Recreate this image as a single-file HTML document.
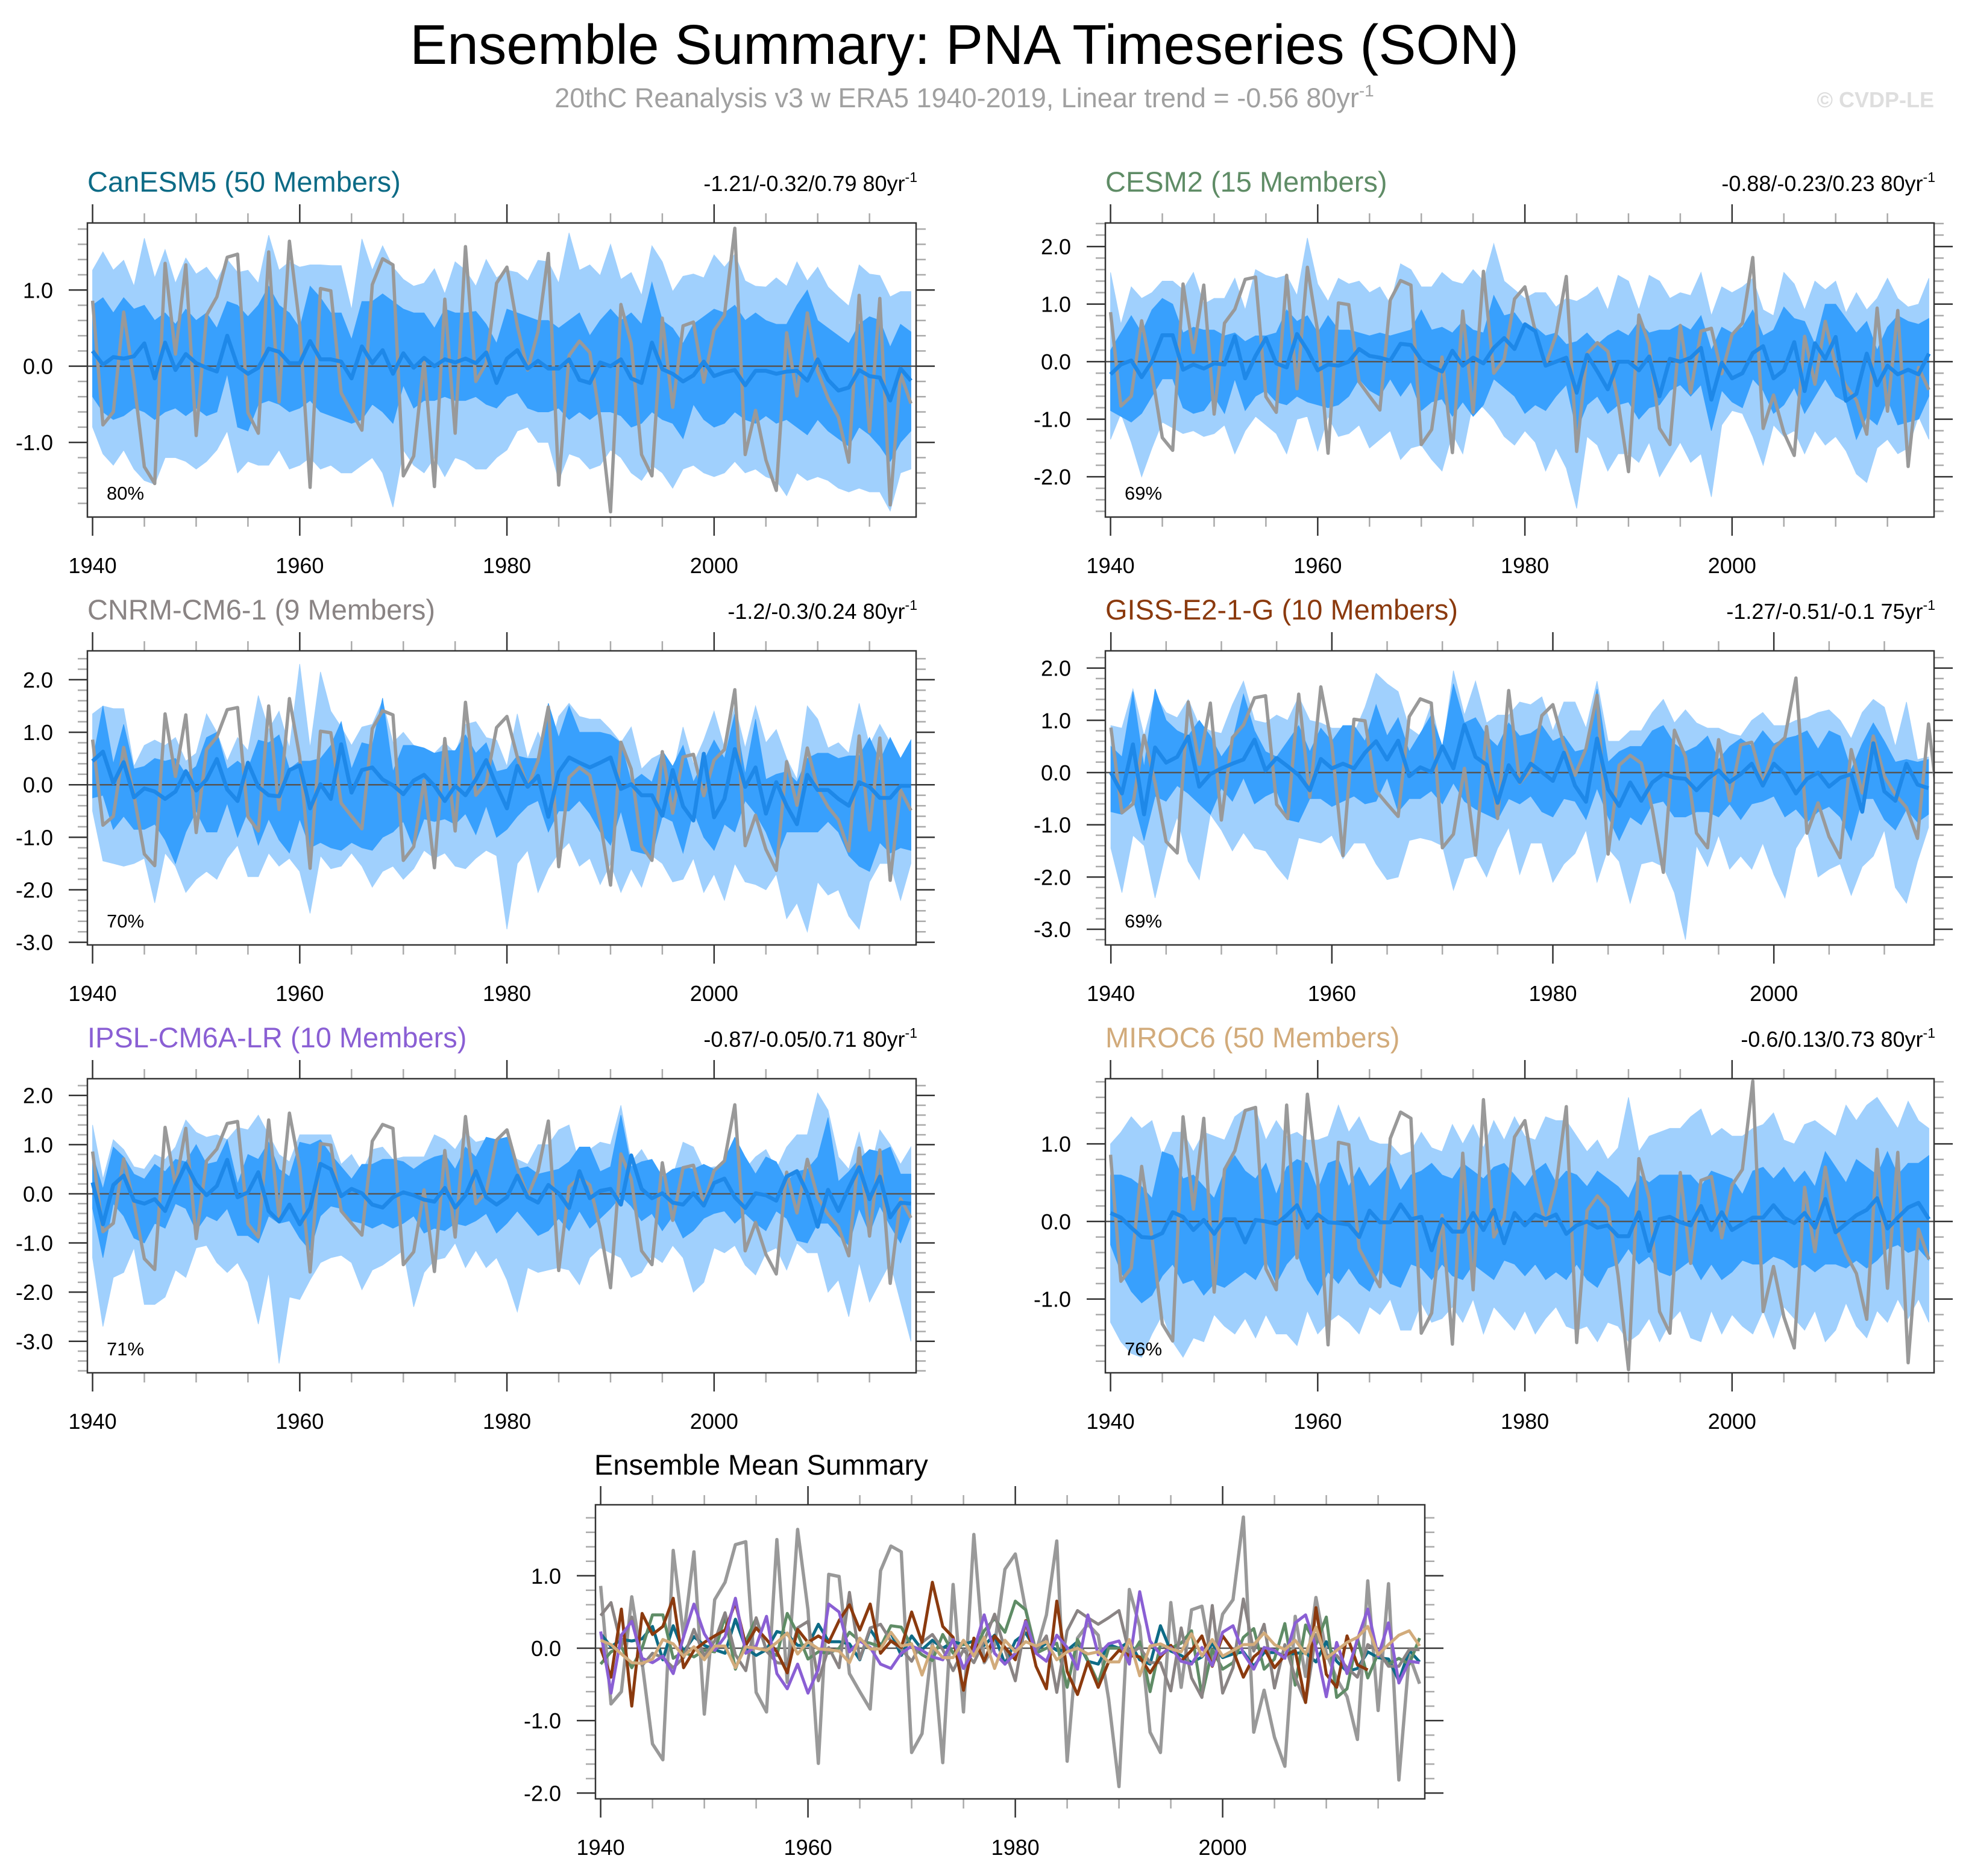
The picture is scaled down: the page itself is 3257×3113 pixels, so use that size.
<!DOCTYPE html>
<html><head><meta charset="utf-8"><style>
html,body{margin:0;padding:0;background:#fff;}
svg{display:block;font-family:"Liberation Sans",Arial,sans-serif;}
</style></head>
<body>
<svg id="chart" xmlns="http://www.w3.org/2000/svg" width="3257" height="3113" viewBox="0 0 3257 3113">
<rect x="0" y="0" width="3257" height="3113" fill="#fff"/>
<text x="1600" y="106" font-size="93" text-anchor="middle" fill="#000">Ensemble Summary: PNA Timeseries (SON)</text>
<text x="1600" y="178" font-size="45" text-anchor="middle" fill="#a0a0a0">20thC Reanalysis v3 w ERA5 1940-2019, Linear trend = -0.56 80yr<tspan dy="-18" font-size="28">-1</tspan></text>
<text x="3209" y="178" font-size="36" font-weight="bold" text-anchor="end" fill="#dedede">© CVDP-LE</text>
<g id="panels"></g>
</svg>
<script>
// ---- data ----
const years80 = [1940,1941,1942,1943,1944,1945,1946,1947,1948,1949,1950,1951,1952,1953,1954,1955,1956,1957,1958,1959,1960,1961,1962,1963,1964,1965,1966,1967,1968,1969,1970,1971,1972,1973,1974,1975,1976,1977,1978,1979,1980,1981,1982,1983,1984,1985,1986,1987,1988,1989,1990,1991,1992,1993,1994,1995,1996,1997,1998,1999,2000,2001,2002,2003,2004,2005,2006,2007,2008,2009,2010,2011,2012,2013,2014,2015,2016,2017,2018,2019];
const obsValues = [0.86,-0.77,-0.6,0.71,-0.2,-1.32,-1.54,1.35,0.16,1.33,
-0.91,0.67,0.91,1.43,1.47,-0.61,-0.88,1.5,-0.47,1.64,
0.53,-1.59,1.02,0.99,-0.35,-0.6,-0.84,1.07,1.41,1.33,
-1.44,-1.18,0.08,-1.58,0.88,-0.88,1.57,-0.2,0.04,1.09,
1.3,0.53,-0.05,0.46,1.48,-1.56,0.14,0.33,0.18,-0.7,
-1.91,0.81,0.3,-1.16,-1.44,0.63,-0.54,0.53,0.58,-0.21,
0.47,0.67,1.81,-1.16,-0.58,-1.23,-1.63,0.44,-0.39,0.7,
-0.07,-0.42,-0.67,-1.26,0.93,-0.86,0.89,-1.82,-0.1,-0.49];

const canMean = [0.2,0.02,0.12,0.1,0.13,0.3,-0.16,0.31,-0.05,0.16,0.04,-0.02,-0.07,0.4,0,-0.1,-0.02,0.23,0.19,0.04,0.04,0.33,0.09,0.09,0.06,-0.16,0.26,0.04,0.21,-0.1,0.17,-0.02,0.11,0,0.09,0.05,0.1,0.04,0.18,-0.22,0.1,0.21,-0.03,0.07,-0.03,-0.03,0.09,-0.18,-0.22,0.05,0,0.09,-0.16,-0.22,0.31,-0.04,-0.1,-0.2,-0.12,0.06,-0.13,-0.08,-0.05,-0.25,-0.06,-0.06,-0.1,-0.07,-0.06,-0.19,0.09,-0.18,-0.32,-0.28,-0.05,-0.13,-0.15,-0.45,-0.03,-0.19];
const canOuterHi = [1.26,1.5,1.26,1.39,1.05,1.68,1.16,1.53,1.09,1.42,1.21,1.3,1.12,1.4,1.23,1.26,1.09,1.72,1.26,1.37,1.3,1.33,1.33,1.32,1.32,0.74,1.67,1.26,1.58,1.3,1.14,1.05,1.09,1.28,0.95,1.37,1.26,1.05,1.4,1.16,1.26,1.23,1.12,1.39,1.37,1.09,1.75,1.26,1.33,1.19,1.6,1.14,1.23,0.93,1.58,1.37,0.98,1.18,1.21,1.16,1.46,1.3,1.47,1.12,1.05,1.04,1.16,1.05,1.37,1.12,1.3,1.04,0.91,0.79,1.33,1.21,1.19,0.91,0.98,0.98];
const canInnerHi = [0.8,0.9,0.7,0.9,0.75,0.8,0.6,0.7,0.55,0.75,0.6,0.7,0.5,0.85,0.8,0.65,0.8,1.05,0.8,0.7,0.5,1.05,0.9,0.7,0.7,0.35,0.85,0.85,0.95,0.85,0.75,0.7,0.7,0.5,0.75,0.7,0.7,0.72,0.55,0.3,0.75,0.7,0.65,0.6,0.6,0.5,0.6,0.7,0.4,0.6,0.75,0.6,0.7,0.55,1.1,0.6,0.5,0.3,0.55,0.65,0.75,0.7,0.8,0.6,0.7,0.6,0.55,0.55,0.8,1.0,0.6,0.5,0.4,0.3,0.55,0.65,0.6,0.25,0.55,0.45];
const canInnerLo = [-0.4,-0.6,-0.7,-0.65,-0.55,-0.6,-0.7,-0.6,-0.55,-0.65,-0.55,-0.65,-0.6,-0.1,-0.8,-0.85,-0.5,-0.45,-0.5,-0.6,-0.55,-0.45,-0.6,-0.65,-0.7,-0.75,-0.7,-0.5,-0.6,-0.75,-0.25,-0.55,-0.45,-0.45,-0.4,-0.45,-0.45,-0.4,-0.5,-0.55,-0.4,-0.35,-0.55,-0.6,-0.6,-0.55,-0.7,-0.6,-0.7,-0.6,-0.6,-0.65,-0.8,-0.75,-0.6,-0.7,-0.75,-0.95,-0.5,-0.7,-0.8,-0.75,-0.6,-0.7,-0.75,-0.65,-0.75,-0.7,-0.8,-0.9,-0.7,-0.85,-0.95,-1.05,-0.8,-0.9,-1.05,-1.25,-1.0,-0.85];
const canOuterLo = [-0.8,-1.15,-1.3,-1.1,-1.35,-1.5,-1.55,-1.2,-1.2,-1.25,-1.35,-1.25,-1.1,-0.85,-1.4,-1.25,-1.3,-1.3,-1.1,-1.35,-1.3,-1.2,-1.35,-1.3,-1.4,-1.4,-1.3,-1.2,-1.4,-1.85,-1.1,-1.3,-1.4,-1.2,-1.45,-1.2,-1.25,-1.35,-1.35,-1.2,-1.1,-0.85,-0.8,-1.0,-1.0,-1.5,-1.15,-1.2,-1.35,-1.3,-1.1,-1.2,-1.4,-1.5,-1.3,-1.4,-1.6,-1.35,-1.3,-1.4,-1.45,-1.4,-1.25,-1.4,-1.35,-1.45,-1.5,-1.7,-1.4,-1.5,-1.45,-1.5,-1.6,-1.65,-1.6,-1.65,-1.65,-1.9,-1.4,-1.35];

const cesmMean = [-0.22,-0.05,0.02,-0.27,0,0.46,0.46,-0.14,-0.05,-0.12,-0.03,-0.05,0.44,-0.29,0.1,0.41,-0.03,-0.1,0.48,0.2,-0.15,-0.05,-0.07,0,0.22,0.1,0.07,0.02,0.31,0.29,0.03,-0.09,-0.17,0.19,-0.07,0.07,-0.03,0.24,0.41,0.22,0.65,0.53,-0.07,0,0.07,-0.54,0.12,-0.17,-0.48,0,0,-0.15,0.09,-0.6,0.05,0,0.07,0.24,-0.66,-0.02,-0.29,-0.2,0.15,0.27,-0.29,-0.15,0.34,-0.51,0.32,0.05,0.43,-0.68,-0.56,0.14,-0.41,-0.07,-0.22,-0.14,-0.22,0.14];
const cesmOuterHi = [1.55,0.65,1.3,1.1,1.2,1.4,1.4,1.25,1.55,1.0,1.1,1.1,1.45,0.9,1.6,1.5,1.45,1.5,1.15,2.15,1.35,1.05,1.45,1.35,1.4,1.2,1.3,1.0,1.7,1.6,1.3,1.3,1.55,1.4,1.35,1.6,1.4,2.05,1.4,1.25,1.1,1.2,1.2,0.95,1.1,1.05,1.15,1.3,0.9,1.5,1.4,0.9,1.5,1.4,1.1,1.2,1.15,1.55,0.8,1.3,1.2,1.3,1.45,0.9,0.8,1.55,1.35,0.9,1.4,1.25,1.4,0.85,1.2,0.9,1.1,1.45,1.1,0.95,1.0,1.45];
const cesmInnerHi = [0.2,0.5,0.8,0.5,0.9,1.1,1.0,0.5,0.6,0.55,0.55,0.45,0.5,0.35,0.45,0.45,0.5,0.9,0.7,0.8,0.5,0.8,0.55,0.55,0.5,0.45,0.5,0.45,0.5,0.55,0.9,0.55,0.6,0.5,0.7,0.55,0.5,1.15,0.8,0.85,0.6,0.6,0.45,0.5,0.3,0.35,0.5,0.3,0.45,0.55,0.45,0.7,0.5,0.55,0.55,0.65,0.55,0.8,0.2,0.6,0.5,0.6,0.9,0.45,0.55,0.95,0.75,0.7,0.3,1.0,1.0,0.75,0.5,0.7,0.2,0.6,0.8,0.7,0.65,0.75];
const cesmInnerLo = [-0.85,-0.95,-1.05,-0.9,-0.6,-0.3,-0.3,-0.8,-0.9,-0.85,-0.6,-0.9,-0.3,-0.85,-0.6,-0.5,-0.7,-0.75,-0.6,-0.7,-0.75,-0.8,-0.75,-0.6,-0.3,-0.5,-0.6,-0.3,-0.6,-0.35,-0.85,-0.7,-0.65,-0.95,-0.7,-0.95,-0.75,-0.3,-0.45,-0.6,-0.9,-0.75,-0.85,-0.6,-0.4,-1.2,-0.75,-0.6,-0.9,-0.75,-0.7,-1.0,-0.8,-0.75,-0.5,-0.4,-0.6,-0.4,-1.2,-0.5,-0.7,-0.8,-0.3,-0.5,-0.9,-0.75,-0.45,-0.9,-0.6,-0.3,-0.6,-0.7,-1.35,-0.95,-1.1,-0.65,-1.1,-1.05,-1.0,-0.6];
const cesmOuterLo = [-1.35,-0.9,-1.4,-2.0,-1.5,-1.05,-1.15,-1.25,-1.2,-1.3,-1.25,-1.1,-1.6,-1.2,-0.95,-1.1,-1.25,-1.6,-1.0,-0.95,-1.55,-0.95,-1.3,-1.25,-1.1,-1.5,-1.35,-1.2,-1.7,-1.5,-1.45,-1.7,-1.9,-1.25,-1.6,-0.7,-0.8,-1.0,-1.3,-1.45,-1.2,-1.4,-1.9,-1.5,-1.85,-2.55,-1.3,-1.45,-1.9,-1.6,-1.6,-1.75,-1.4,-2.0,-1.7,-1.4,-1.75,-1.6,-2.35,-1.1,-0.85,-0.9,-1.3,-1.8,-1.1,-1.3,-1.2,-1.6,-1.2,-1.45,-1.3,-1.55,-1.95,-2.1,-1.5,-1.35,-1.6,-1.5,-0.95,-1.35];

const cnrmMean = [0.45,0.63,0.03,0.43,-0.24,-0.07,-0.13,-0.27,-0.13,0.26,-0.11,0.1,0.49,-0.09,-0.31,0.42,-0.04,-0.2,-0.22,0.28,0.37,-0.45,0.01,-0.27,0.77,-0.15,0.28,0.33,0.1,-0.01,-0.18,0.08,0.19,-0.02,-0.31,-0.02,-0.2,0.1,0.47,-0.02,-0.45,0.36,-0.04,0.17,-0.61,0.24,0.52,0.42,0.33,0.42,0.52,-0.08,0.01,-0.2,-0.2,-0.59,0.28,-0.41,-0.68,0.59,-0.62,-0.27,0.68,-0.04,0.33,-0.55,0.05,-0.4,-0.75,0.19,-0.1,-0.1,-0.27,-0.4,0.05,-0.04,-0.25,-0.25,-0.02,-0.02];
const cnrmOuterHi = [1.35,1.5,1.45,1.45,0.35,0.75,0.85,0.75,0.9,0.45,0.6,1.35,1.0,0.45,0.9,0.65,1.7,1.05,1.4,0.7,2.3,0.7,2.15,1.4,1.1,0.75,1.1,1.15,1.6,0.8,1.0,0.75,0.65,0.6,0.8,0.6,1.15,1.2,0.9,0.85,0.35,1.35,0.5,1.0,0.55,1.3,1.55,1.3,1.25,1.25,1.05,0.8,1.1,0.3,0.5,0.6,0.2,1.1,0.4,0.85,1.4,0.7,1.5,0.7,1.5,0.8,1.05,0.5,0.1,1.5,1.25,0.7,0.8,0.6,1.55,0.75,1.15,0.8,0.5,0.85];
const cnrmInnerHi = [0.45,1.5,0.4,1.15,0.3,0.35,0.5,0.45,0.5,0.2,0.35,0.9,1.0,0.3,0.45,0.3,0.85,0.8,0.95,0.3,0.45,0.45,0.5,0.75,1.2,0.3,0.8,0.75,1.65,0.25,0.75,0.75,0.7,0.6,0.65,0.65,0.95,0.6,0.8,0.25,0.3,0.55,0.5,0.5,1.55,0.9,1.5,1.0,1.0,1.0,0.95,0.8,0.05,0.2,0.05,0.65,0.35,0.75,0.05,0.45,0.85,0.5,1.35,0.2,1.25,0.1,0.2,0.25,0.05,0.5,0.6,0.6,0.5,0.55,0.55,0.9,0.45,0.9,0.5,0.85];
const cnrmInnerLo = [-0.25,-0.2,-0.85,-0.6,-0.85,-0.85,-0.75,-1.05,-1.5,-0.9,-0.5,-0.9,-0.9,-0.35,-1.0,-0.5,-1.15,-0.65,-1.05,-1.3,-0.65,-1.2,-1.1,-1.2,-1.25,-1.1,-1.2,-1.25,-1.0,-0.9,-0.7,-1.2,-0.65,-0.7,-0.65,-0.75,-0.55,-0.95,-0.4,-1.0,-0.85,-0.6,-0.4,-0.3,-0.9,-0.5,-0.5,-0.3,-0.55,-0.9,-1.15,-0.5,-1.25,-1.3,-1.35,-0.6,-0.7,-1.3,-0.5,-1.0,-1.25,-0.75,-0.9,-0.3,-0.55,-0.9,-1.4,-0.9,-0.9,-0.9,-0.9,-0.7,-0.9,-1.35,-1.55,-1.65,-1.1,-1.3,-1.2,-1.25];
const cnrmOuterLo = [-0.5,-1.45,-1.5,-1.55,-1.5,-1.4,-2.25,-1.3,-1.55,-2.05,-1.8,-1.65,-1.8,-1.4,-1.15,-1.75,-1.75,-1.3,-1.55,-1.4,-1.65,-2.45,-1.35,-1.6,-1.55,-1.3,-1.55,-1.95,-1.65,-1.55,-1.8,-1.6,-1.25,-1.4,-1.3,-1.55,-1.6,-1.4,-1.25,-1.35,-2.75,-1.5,-1.25,-2.05,-1.6,-1.3,-1.1,-1.55,-1.4,-1.9,-1.5,-2.05,-1.6,-1.95,-1.35,-1.5,-1.85,-1.8,-1.4,-2.05,-1.7,-2.2,-1.5,-1.85,-1.9,-2.0,-1.7,-2.55,-2.25,-2.8,-1.85,-2.1,-2.0,-2.5,-2.75,-1.85,-1.5,-1.5,-2.2,-1.5];

const gissMean = [0,-0.4,0.54,-0.8,0.48,0.19,0.3,0.69,-0.27,-0.03,0.08,0.17,0.25,0.63,0.04,0.28,0.12,-0.05,-0.34,0.26,0.08,0.17,0.08,0.38,0.6,0.25,0.61,-0.07,0.1,0.01,0.5,0.08,0.91,0.3,0.15,-0.58,0.14,-0.18,0.17,0.01,-0.16,0.38,-0.25,-0.56,0.65,-0.32,-0.64,-0.19,-0.54,-0.19,-0.03,-0.1,-0.12,-0.34,-0.12,0.04,-0.18,-0.03,0.17,-0.25,0.17,-0.03,-0.4,-0.12,0,-0.27,-0.1,-0.03,-0.75,0.56,-0.36,-0.54,0.17,-0.23,-0.3];
const gissOuterHi = [0.9,0.85,1.6,0.7,1.5,1.15,1.05,1.4,0.9,0.8,0.75,1.3,1.75,1.0,0.95,1.1,1.0,1.45,1.0,0.95,0.85,0.85,0.75,1.25,1.9,1.7,1.55,0.85,0.7,1.3,0.4,1.95,1.1,1.75,0.95,1.1,1.1,1.35,1.3,1.45,0.8,1.35,1.35,0.85,1.75,0.6,0.6,0.8,0.8,1.15,1.4,0.95,1.2,0.95,0.85,0.85,0.75,0.7,1.0,1.15,0.9,0.9,1.0,1.05,1.15,1.2,1.0,0.65,1.15,1.4,1.25,0.5,1.35,0.25,0.3];
const gissInnerHi = [0.5,0.3,1.55,0.1,1.6,1.0,0.8,0.7,1.0,0.7,0.3,0.6,1.5,0.8,0.4,0.3,0.6,0.9,0.4,0.85,0.6,0.9,0.9,0.6,1.3,0.7,1.05,0.4,0.75,1.1,0.5,1.7,0.95,1.05,0.7,0.5,0.95,0.7,0.75,0.9,0.6,0.7,0.4,0.45,1.6,0.2,0.4,0.5,0.5,0.8,0.9,0.55,0.4,0.5,0.7,0.25,0.5,0.65,0.5,0.8,0.55,0.65,0.7,0.8,0.45,0.8,0.7,0.05,0.55,0.95,0.6,0.2,0.25,0.2,0.25];
const gissInnerLo = [-0.75,-0.8,-0.5,-1.3,-0.45,-0.55,-0.25,-0.4,-0.6,-0.8,-0.3,-0.55,-0.1,-0.6,-0.45,-0.35,-0.9,-0.95,-0.5,-0.5,-0.65,-0.55,-0.45,-0.6,-0.55,-0.1,-0.75,-0.5,-0.5,-0.35,-0.6,-0.2,-0.55,-0.7,-0.8,-0.9,-0.5,-0.6,-0.45,-0.75,-0.85,-0.5,-0.55,-0.9,-0.3,-0.85,-1.3,-0.85,-1.0,-0.6,-0.55,-0.85,-0.85,-0.75,-0.75,-0.85,-0.6,-0.9,-0.6,-0.55,-0.45,-0.85,-0.7,-0.95,-0.75,-0.65,-0.85,-1.3,-0.5,-0.5,-0.9,-1.1,-0.7,-0.95,-0.8];
const gissOuterLo = [-1.45,-2.3,-1.2,-1.4,-2.4,-1.5,-0.85,-1.7,-2.05,-0.8,-1.1,-1.5,-1.15,-1.45,-1.5,-1.8,-2.05,-1.25,-1.3,-1.35,-1.2,-1.65,-1.35,-1.35,-1.75,-2.05,-2.0,-1.3,-1.25,-1.3,-1.4,-2.25,-1.65,-1.6,-2.0,-1.45,-1.05,-1.95,-1.35,-1.35,-2.1,-1.75,-1.55,-1.1,-2.1,-1.45,-1.7,-2.5,-1.75,-1.7,-1.8,-2.3,-3.2,-1.4,-1.8,-1.2,-1.85,-1.6,-1.85,-1.35,-1.95,-2.4,-1.45,-1.1,-2.0,-1.85,-1.75,-2.35,-1.8,-1.6,-1.1,-2.2,-2.5,-1.7,-1.05];

const ipslMean = [0.23,-0.62,0.18,0.37,-0.14,-0.2,-0.11,-0.35,0.16,0.61,0.2,-0.03,0.16,0.69,-0.07,0.03,0.44,-0.35,-0.56,-0.22,-0.62,-0.29,0.61,0.5,-0.05,0.1,0.01,-0.22,-0.28,-0.07,0.03,-0.03,-0.12,-0.16,0.12,-0.28,-0.03,0.46,-0.07,-0.22,-0.07,0.37,-0.07,-0.18,0.18,0.01,-0.29,0.46,-0.09,0.06,0.1,-0.22,0.78,0.1,-0.09,0.01,-0.18,-0.22,0.01,-0.24,0.22,0.31,-0.07,-0.29,0.01,-0.03,-0.14,0.35,0.46,0.01,-0.67,0.08,-0.35,0.12,0.54,-0.11,0.35,-0.48,-0.18,-0.2];
const ipslOuterHi = [1.4,0.3,1.1,0.9,0.55,0.5,0.8,0.7,0.95,1.5,1.25,1.15,1.2,1.1,1.35,1.3,1.6,1.2,0.8,0.65,1.2,1.2,1.2,1.2,0.6,0.8,0.45,0.9,0.95,0.7,0.75,0.75,0.75,1.2,1.1,0.9,1.25,1.05,1.1,0.9,0.85,0.7,0.6,1.0,1.0,1.3,1.4,0.6,0.9,1.05,1.0,1.8,0.65,0.9,0.55,0.4,0.35,1.05,0.95,0.5,0.55,0.55,0.6,0.5,0.75,0.9,0.5,0.95,1.2,1.2,2.05,1.7,0.75,0.5,1.25,0.4,1.3,1.0,0.6,0.95];
const ipslInnerHi = [0.8,0.1,0.95,0.75,0.4,0.3,0.6,0.45,0.7,0.65,1.0,0.6,0.65,1.1,0.2,0.8,0.7,1.05,0.5,0.35,1.05,1.0,1.1,0.8,0.55,0.3,0.6,0.6,0.7,0.7,0.65,0.5,0.65,0.75,0.8,0.5,0.95,0.75,1.15,1.1,1.15,0.5,0.55,0.4,0.45,0.5,0.65,0.95,0.95,0.45,0.55,1.6,0.55,0.65,0.7,0.35,0.5,0.55,0.5,0.6,0.5,0.7,1.15,0.75,0.4,0.75,0.65,0.25,0.45,0.5,0.75,1.55,0.25,0.45,0.7,0.9,0.85,0.95,0.4,0.4];
const ipslInnerLo = [-0.3,-1.3,-0.2,-0.45,-0.9,-1.0,-0.6,-0.7,-0.2,-0.3,-0.75,-0.45,-0.55,-0.3,-0.85,-0.85,-1.0,-0.45,-0.6,-0.55,-0.9,-1.15,-0.45,-0.25,-0.3,-0.55,-0.6,-0.7,-0.6,-0.7,-0.6,-0.45,-0.8,-0.7,-0.75,-0.6,-0.65,-0.55,-0.4,-0.8,-0.6,-0.35,-0.6,-0.85,-0.75,-0.5,-0.75,-0.35,-0.7,-0.5,-0.3,-0.05,-0.25,-0.55,-0.4,-0.75,-0.45,-0.9,-0.75,-0.5,-0.4,-0.35,-0.6,-0.4,-0.6,-0.75,-0.35,-0.5,-0.95,-1.0,-0.6,-0.6,-0.85,-1.05,-0.3,-0.8,-0.25,-0.65,-1.0,-0.45];
const ipslOuterLo = [-1.3,-2.7,-1.7,-1.6,-1.1,-2.25,-2.25,-2.1,-1.55,-1.7,-1.1,-1.05,-1.4,-1.6,-1.4,-1.8,-2.65,-1.6,-3.45,-2.1,-2.15,-1.75,-1.4,-1.3,-1.25,-1.4,-1.95,-1.55,-1.45,-1.3,-1.15,-2.3,-1.6,-1.35,-1.3,-1.0,-1.5,-1.15,-1.5,-1.3,-1.75,-2.4,-1.5,-1.6,-1.55,-1.5,-1.55,-1.85,-1.3,-1.1,-1.2,-1.3,-1.7,-1.6,-1.25,-1.4,-1.05,-1.3,-2.0,-1.8,-1.1,-1.2,-1.05,-1.45,-1.65,-1.2,-1.1,-1.55,-1.0,-1.2,-1.2,-2.0,-1.75,-2.5,-1.4,-2.2,-1.8,-1.4,-2.2,-3.0];

const mirocMean = [0.11,0.05,-0.08,-0.2,-0.21,-0.15,0.12,0.06,-0.11,0.02,-0.16,0.03,0.03,-0.27,0.02,0,-0.03,0.08,0.21,-0.08,0.09,-0.01,-0.02,-0.04,-0.2,0.14,-0.01,-0.01,0.22,0.03,0.06,-0.37,0.03,-0.13,-0.13,0.11,-0.11,0.15,-0.28,0.11,-0.05,0.09,0.03,0.09,-0.16,-0.05,0,-0.08,-0.05,-0.19,-0.19,0.12,-0.38,0.03,0.06,-0.01,-0.05,0.2,-0.11,0.12,-0.11,-0.03,0.05,0.05,0.21,0.05,-0.02,0.11,-0.08,0.29,-0.14,-0.03,0.08,0.15,0.3,-0.09,0.05,0.18,0.24,0.03];
const mirocOuterHi = [1.0,1.15,1.35,1.2,1.3,0.85,1.15,1.15,0.9,1.15,1.1,1.05,1.35,1.45,1.45,1.05,1.3,1.1,1.15,1.05,1.05,1.1,1.5,1.15,1.35,1.05,1.0,1.0,0.85,0.9,1.15,0.95,0.9,1.25,1.0,1.25,0.95,1.3,1.05,1.35,1.1,1.05,1.35,1.3,1.3,1.1,0.9,1.05,0.8,0.95,1.6,0.9,1.1,1.15,1.2,1.2,1.35,1.45,1.1,1.2,1.1,1.1,1.2,1.25,1.4,1.05,1.0,1.25,1.3,1.2,1.1,1.5,1.3,1.5,1.6,1.4,1.2,1.55,1.3,1.2];
const mirocInnerHi = [0.6,0.6,0.55,0.45,0.3,0.9,0.85,0.55,0.6,0.45,0.3,0.65,0.85,0.65,0.55,0.75,0.35,0.7,0.8,0.75,0.4,0.75,0.8,0.45,0.7,0.45,0.6,0.75,0.4,0.6,0.65,0.75,0.6,0.55,0.75,0.65,0.55,0.7,0.75,0.6,0.45,0.65,0.75,0.5,0.65,0.6,0.45,0.65,0.55,0.45,0.3,0.6,0.5,0.6,0.6,0.6,0.6,0.45,0.65,0.6,0.55,0.35,0.65,0.7,0.55,0.7,0.5,0.65,0.45,0.9,0.7,0.5,0.8,0.7,0.6,0.9,0.6,0.75,0.75,0.85];
const mirocInnerLo = [-0.3,-0.65,-0.9,-1.05,-0.95,-0.7,-0.55,-0.8,-0.75,-0.95,-0.8,-0.85,-0.75,-0.65,-0.75,-0.5,-0.8,-0.55,-0.4,-0.75,-0.95,-0.65,-0.8,-0.6,-0.8,-0.9,-0.6,-0.8,-0.85,-0.55,-0.6,-0.75,-0.55,-0.7,-0.75,-0.55,-0.65,-0.75,-0.5,-0.55,-0.7,-0.55,-0.75,-0.65,-0.75,-0.55,-0.75,-0.85,-0.6,-0.55,-0.35,-0.55,-0.45,-0.65,-0.7,-0.6,-0.5,-0.75,-0.55,-0.75,-0.65,-0.5,-0.55,-0.55,-0.45,-0.5,-0.6,-0.55,-0.65,-0.55,-0.55,-0.6,-0.5,-0.6,-0.5,-0.35,-0.3,-0.4,-0.35,-0.5];
const mirocOuterLo = [-1.3,-1.55,-1.7,-1.75,-1.45,-1.2,-1.55,-1.75,-1.5,-1.55,-1.2,-1.35,-1.45,-1.25,-1.5,-1.2,-1.45,-1.45,-1.6,-1.15,-1.45,-1.3,-1.2,-1.3,-1.45,-1.1,-1.2,-1.0,-1.4,-1.4,-1.05,-1.3,-1.25,-1.1,-1.3,-1.0,-1.45,-1.1,-1.25,-1.4,-1.15,-1.45,-1.25,-1.1,-1.35,-1.4,-1.35,-1.55,-1.3,-1.35,-1.55,-1.45,-1.25,-1.55,-1.3,-1.15,-1.5,-1.55,-1.15,-1.45,-1.2,-1.35,-1.45,-1.15,-1.5,-1.1,-1.25,-1.4,-1.15,-1.55,-1.4,-1.05,-1.35,-1.5,-1.15,-1.3,-1.0,-1.25,-1.0,-1.3];

const xTickLabels = ["1940","1960","1980","2000"];
const xTickYears = [1940,1960,1980,2000];

// ---- drawing ----
const NS = "http://www.w3.org/2000/svg";
const root = document.getElementById("panels");
function mk(tag, attrs, parent) {
  const el = document.createElementNS(NS, tag);
  for (const k in attrs) el.setAttribute(k, attrs[k]);
  (parent || root).appendChild(el);
  return el;
}
function fmt(v){ return (v<0?"-":"") + Math.abs(v).toFixed(1); }

let clipId = 0;
function axes(g, P) {
  const X = yr => P.x0 + (yr - P.xmin) / (P.xmax - P.xmin) * P.w;
  const Y = v => P.y0 + (P.ymax - v) / (P.ymax - P.ymin) * P.h;
  const ylo = Math.ceil(P.ymin * 5 - 1e-6), yhi = Math.floor(P.ymax * 5 + 1e-6);
  for (let k = ylo; k <= yhi; k++) {
    const v = k / 5, major = (k % 5 === 0), len = major ? 31 : 16, yy = Y(v);
    const t1 = mk("line", {x1:P.x0, x2:P.x0-len, y1:yy, y2:yy, stroke: major?"#333":"#aaa", "stroke-width":2.5}, g);
    
    
    const t2 = mk("line", {x1:P.x0+P.w, x2:P.x0+P.w+len, y1:yy, y2:yy, stroke: major?"#333":"#aaa", "stroke-width":2.5}, g);
    
    
    if (major) {
      const lb = mk("text", {x:P.x0-57, y:yy+13, "font-size":36, "text-anchor":"end", fill:"#000"}, g);
      lb.textContent = fmt(v);
      
      
    }
  }
  for (let yr = 1940; yr <= P.xmax; yr += 5) {
    const major = (yr % 20 === 0), len = major ? 31 : 16, xx = X(yr);
    const b = mk("line", {x1:xx, x2:xx, y1:P.y0+P.h, y2:P.y0+P.h+len, stroke: major?"#333":"#aaa", "stroke-width":2.5}, g);
    
    
    const t = mk("line", {x1:xx, x2:xx, y1:P.y0, y2:P.y0-len, stroke: major?"#333":"#aaa", "stroke-width":2.5}, g);
    
    
  }
  xTickYears.forEach((yr, i) => {
    const lb = mk("text", {x:X(yr), y:P.y0+P.h+93, "font-size":36, "text-anchor":"middle", fill:"#000"}, g);
    lb.textContent = xTickLabels[i];
    
    
  });
  const cid = "clip" + (clipId++);
  const cp = mk("clipPath", {id:cid}, g);
  mk("rect", {x:P.x0, y:P.y0, width:P.w, height:P.h}, cp);
  const plot = mk("g", {"clip-path":"url(#"+cid+")"}, g);
  
  
  return {X, Y, plot};
}
function band(plot, X, Y, hi, lo, fill, name) {
  const n = hi.length;
  let pts = [];
  for (let i = 0; i < n; i++) pts.push(X(years80[i]).toFixed(1)+","+Y(hi[i]).toFixed(1));
  for (let i = n-1; i >= 0; i--) pts.push(X(years80[i]).toFixed(1)+","+Y(lo[i]).toFixed(1));
  const p = mk("polygon", {points:pts.join(" "), fill:fill, stroke:fill, "stroke-width":1}, plot);
  
  
}
function line(plot, X, Y, vals, color, width, name) {
  const pts = vals.map((v,i) => X(years80[i]).toFixed(1)+","+Y(v).toFixed(1));
  const p = mk("polyline", {points:pts.join(" "), fill:"none", stroke:color, "stroke-width":width, "stroke-linejoin":"round"}, plot);
  
  
}
function zero(plot, P, Y) {
  const z = mk("line", {x1:P.x0, x2:P.x0+P.w, y1:Y(0), y2:Y(0), stroke:"#555", "stroke-width":2.5}, plot);
  
  
}
function frame(g, P) {
  const f = mk("rect", {x:P.x0, y:P.y0, width:P.w, height:P.h, fill:"none", stroke:"#333", "stroke-width":2.5}, g);
  
  
}

const panels = [
 {name:"canesm5", title:"CanESM5 (50 Members)", color:"#0d6b86", trend:"-1.21/-0.32/0.79 80yr", pct:"80%", x0:145, y0:370, ymin:-1.98, ymax:1.88, xmax:2019.5, mean:canMean, ohi:canOuterHi, ihi:canInnerHi, ilo:canInnerLo, olo:canOuterLo},
 {name:"cesm2", title:"CESM2 (15 Members)", color:"#5f8c66", trend:"-0.88/-0.23/0.23 80yr", pct:"69%", x0:1834, y0:370, ymin:-2.70, ymax:2.41, xmax:2019.5, mean:cesmMean, ohi:cesmOuterHi, ihi:cesmInnerHi, ilo:cesmInnerLo, olo:cesmOuterLo},
 {name:"cnrm-cm6-1", title:"CNRM-CM6-1 (9 Members)", color:"#8a8484", trend:"-1.2/-0.3/0.24 80yr", pct:"70%", x0:145, y0:1080, ymin:-3.05, ymax:2.55, xmax:2019.5, mean:cnrmMean, ohi:cnrmOuterHi, ihi:cnrmInnerHi, ilo:cnrmInnerLo, olo:cnrmOuterLo},
 {name:"giss-e2-1-g", title:"GISS-E2-1-G (10 Members)", color:"#8b3a0e", trend:"-1.27/-0.51/-0.1 75yr", pct:"69%", x0:1834, y0:1080, ymin:-3.3, ymax:2.33, xmax:2014.5, mean:gissMean, ohi:gissOuterHi, ihi:gissInnerHi, ilo:gissInnerLo, olo:gissOuterLo},
 {name:"ipsl-cm6a-lr", title:"IPSL-CM6A-LR (10 Members)", color:"#8a5fd4", trend:"-0.87/-0.05/0.71 80yr", pct:"71%", x0:145, y0:1790, ymin:-3.64, ymax:2.34, xmax:2019.5, mean:ipslMean, ohi:ipslOuterHi, ihi:ipslInnerHi, ilo:ipslInnerLo, olo:ipslOuterLo},
 {name:"miroc6", title:"MIROC6 (50 Members)", color:"#d2ab7b", trend:"-0.6/0.13/0.73 80yr", pct:"76%", x0:1834, y0:1790, ymin:-1.95, ymax:1.84, xmax:2019.5, mean:mirocMean, ohi:mirocOuterHi, ihi:mirocInnerHi, ilo:mirocInnerLo, olo:mirocOuterLo}
];

panels.forEach(P => {
  P.w = 1375; P.h = 488; P.xmin = 1939.5;
  const g = mk("g", {});
  
  
  const t = mk("text", {x:P.x0, y:P.y0-52, "font-size":47, fill:P.color}, g);
  t.textContent = P.title;
  
  
  const tr = mk("text", {x:P.x0+P.w+2, y:P.y0-53, "font-size":36, "text-anchor":"end", fill:"#000"}, g);
  tr.textContent = P.trend;
  const sup = mk("tspan", {dy:-15, "font-size":23}, tr);
  sup.textContent = "-1";
  
  
  const A = axes(g, P);
  band(A.plot, A.X, A.Y, P.ohi, P.olo, "#a0d0fd", "outer-spread-band");
  band(A.plot, A.X, A.Y, P.ihi, P.ilo, "#38a0fd", "inner-spread-band");
  zero(A.plot, P, A.Y);
  line(A.plot, A.X, A.Y, obsValues, "#999999", 5.5, "observed-series");
  line(A.plot, A.X, A.Y, P.mean, "#1e88e8", 6.5, "ensemble-mean-series");
  const pc = mk("text", {x:P.x0+32, y:P.y0+P.h-29, "font-size":31, fill:"#000"}, g);
  pc.textContent = P.pct;
  
  
  frame(g, P);
});

// summary panel
const S = {x0:988, y0:2497, w:1376, h:488, xmin:1939.5, xmax:2019.5, ymin:-2.08, ymax:1.98};
const gs = mk("g", {});


const st = mk("text", {x:S.x0-2, y:S.y0-50, "font-size":47, fill:"#000"}, gs);
st.textContent = "Ensemble Mean Summary";


const SA = axes(gs, S);
zero(SA.plot, S, SA.Y);
line(SA.plot, SA.X, SA.Y, obsValues, "#999999", 5.5, "summary-observed-series");
panels.forEach(P => {
  line(SA.plot, SA.X, SA.Y, P.mean, P.color, 5, "summary-" + P.name + "-mean");
});
frame(gs, S);
</script>
</body></html>
